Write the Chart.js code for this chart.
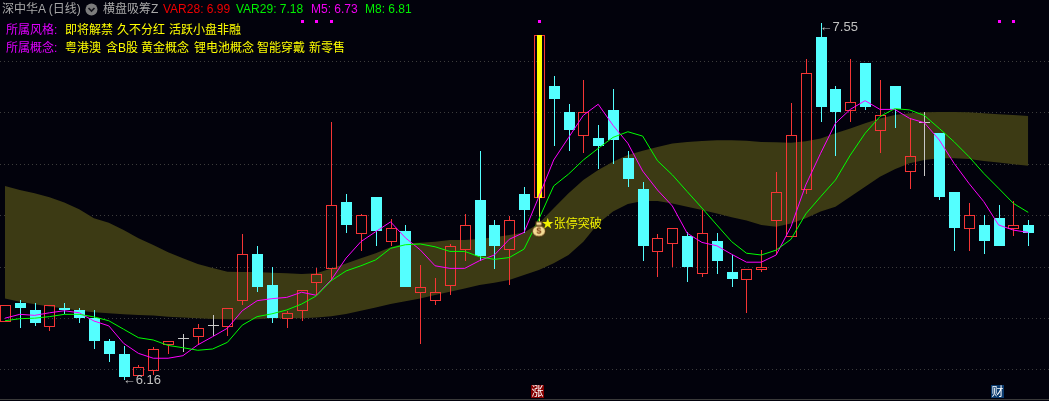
<!DOCTYPE html>
<html>
<head>
<meta charset="utf-8">
<title>深中华A 日线</title>
<script src="https://cdn.jsdelivr.net/npm/chart.js@4"></script>
<style>
html, body { margin: 0; padding: 0; background: #02020c; overflow: hidden; }
#wrap { position: relative; width: 1049px; height: 401px; }
canvas { position: absolute; left: 0; top: 0; }
#head span { position: absolute; white-space: nowrap; font: 12px/14px "Liberation Sans", "Noto Sans CJK SC", sans-serif; }
#head svg { position: absolute; left: 85px; top: 3px; }
#baseLine { position: absolute; left: 0; top: 399px; width: 1049px; height: 1px; background: #3a3a3a; }
</style>
</head>
<body>
<div id="wrap">
    <canvas id="kline" width="1049" height="401"></canvas>
    <div id="baseLine"></div>
    <div id="head"></div>
</div>
<script>
// 日线 K 线数据
const open = [6.387,6.460,6.433,6.368,6.441,6.433,6.402,6.312,6.262,6.177,6.197,6.297,6.319,6.329,6.371,6.368,6.469,6.651,6.530,6.399,6.430,6.539,6.591,6.853,6.729,6.873,6.698,6.740,6.500,6.469,6.527,6.668,6.861,6.764,6.668,6.885,6.869,7.305,7.203,7.112,7.104,7.212,7.025,6.904,6.660,6.691,6.721,6.572,6.702,6.581,6.551,6.590,6.781,6.718,6.901,7.496,7.293,7.209,7.395,7.131,7.305,6.971,7.162,7.122,6.892,6.749,6.764,6.791,6.749,6.764];
const close = [6.451,6.441,6.382,6.451,6.433,6.402,6.312,6.262,6.172,6.210,6.280,6.311,6.319,6.362,6.371,6.439,6.650,6.522,6.402,6.420,6.510,6.572,6.841,6.764,6.802,6.740,6.751,6.522,6.521,6.502,6.681,6.763,6.643,6.682,6.782,6.822,7.504,7.254,7.134,7.203,7.071,7.095,6.943,6.682,6.712,6.751,6.600,6.732,6.624,6.554,6.591,6.599,6.891,7.113,7.355,7.223,7.204,7.242,7.223,7.191,7.216,7.031,7.162,6.873,6.752,6.802,6.702,6.682,6.763,6.733];
const high = [6.451,6.472,6.460,6.451,6.460,6.441,6.433,6.320,6.293,6.219,6.289,6.311,6.339,6.378,6.413,6.439,6.729,6.682,6.600,6.429,6.510,6.596,7.165,6.885,6.807,6.873,6.787,6.764,6.608,6.557,6.690,6.807,7.052,6.783,6.799,6.912,7.504,7.344,7.235,7.328,7.153,7.293,7.052,6.931,6.729,6.751,6.737,6.822,6.733,6.647,6.591,6.666,6.970,7.239,7.409,7.550,7.305,7.409,7.395,7.328,7.305,7.179,7.204,7.122,6.892,6.850,6.803,6.842,6.857,6.783];
const low = [6.387,6.364,6.372,6.352,6.416,6.382,6.281,6.230,6.160,6.177,6.180,6.262,6.269,6.300,6.332,6.332,6.452,6.503,6.382,6.363,6.390,6.491,6.547,6.733,6.663,6.682,6.682,6.522,6.300,6.452,6.491,6.624,6.624,6.592,6.530,6.733,6.869,7.073,7.052,7.045,6.982,7.001,6.912,6.624,6.561,6.600,6.542,6.561,6.573,6.522,6.422,6.581,6.650,6.718,6.885,7.165,7.033,7.165,7.212,7.044,7.142,6.904,6.955,6.861,6.663,6.663,6.651,6.682,6.721,6.682];

// 均线
const m5 = [6.401,6.416,6.412,6.422,6.430,6.422,6.390,6.371,6.303,6.264,6.245,6.245,6.255,6.297,6.329,6.362,6.430,6.469,6.477,6.482,6.502,6.490,6.550,6.635,6.699,6.738,6.776,6.714,6.667,6.605,6.595,6.595,6.625,6.647,6.708,6.735,6.874,7.017,7.104,7.191,7.234,7.152,7.082,6.974,6.900,6.838,6.732,6.696,6.683,6.650,6.619,6.619,6.647,6.757,6.920,7.043,7.160,7.214,7.248,7.214,7.214,7.179,7.162,7.095,7.004,6.926,6.855,6.764,6.744,6.735];
const m8 = [6.391,6.399,6.401,6.407,6.416,6.416,6.406,6.391,6.358,6.325,6.316,6.295,6.286,6.276,6.281,6.307,6.374,6.407,6.418,6.433,6.456,6.488,6.547,6.585,6.605,6.628,6.673,6.687,6.690,6.679,6.661,6.661,6.640,6.630,6.637,6.670,6.787,6.916,6.962,7.017,7.062,7.105,7.127,7.110,7.014,6.959,6.894,6.830,6.764,6.699,6.654,6.647,6.666,6.708,6.807,6.874,6.939,7.036,7.121,7.186,7.217,7.212,7.190,7.140,7.088,7.030,6.965,6.907,6.848,6.813];

// 通道上下轨
const var29 = [6.916,6.900,6.887,6.872,6.851,6.825,6.790,6.773,6.744,6.712,6.686,6.658,6.634,6.612,6.596,6.582,6.581,6.581,6.578,6.576,6.573,6.576,6.594,6.614,6.634,6.654,6.677,6.693,6.695,6.699,6.705,6.705,6.709,6.716,6.725,6.735,6.770,6.829,6.887,6.939,6.978,7.010,7.036,7.053,7.068,7.081,7.087,7.091,7.094,7.094,7.092,7.087,7.086,7.084,7.090,7.101,7.121,7.140,7.160,7.179,7.192,7.199,7.203,7.204,7.204,7.203,7.199,7.195,7.192,7.188];
const var28 = [6.478,6.465,6.455,6.446,6.439,6.430,6.424,6.420,6.416,6.413,6.411,6.407,6.404,6.401,6.398,6.397,6.395,6.397,6.401,6.401,6.401,6.404,6.409,6.417,6.430,6.443,6.456,6.467,6.478,6.491,6.504,6.517,6.530,6.539,6.550,6.569,6.589,6.615,6.647,6.699,6.770,6.816,6.846,6.857,6.857,6.848,6.835,6.822,6.809,6.794,6.781,6.764,6.757,6.770,6.790,6.816,6.835,6.874,6.913,6.952,6.981,7.004,7.017,7.024,7.024,7.021,7.013,7.007,7.000,6.995];

const yTicks = [6.2, 6.4, 6.6, 6.8, 7.0, 7.2, 7.4];
const markerIdx = [20, 21, 22, 36, 67, 68];
const markerPrice = 7.56;
const limitIdx = 36;
const signalPrice = 6.748;
const signalText = '★张停突破';
const hiLabel = { i: 55, value: 7.55, text: '←7.55' };
const loLabel = { i: 8, value: 6.16, text: '←6.16' };
const bottomTags = [
    { i: 36, text: '涨', color: '#850000' },
    { i: 67, text: '财', color: '#0a3a6e' }
];

// 顶部文字
const headTexts = [
    [2, 2, '深中华A (日线)', '#a8a8a8'],
    [103, 2, '横盘吸筹Z', '#a8a8a8'],
    [163, 2, 'VAR28: 6.99', '#f00000'],
    [236, 2, 'VAR29: 7.18', '#00f000'],
    [311, 2, 'M5: 6.73', '#f000f0'],
    [365, 2, 'M8: 6.81', '#00f000'],
    [6, 23, '所属风格:', '#e000ff'],
    [65, 23, '即将解禁', '#ffff00'],
    [117, 23, '久不分红', '#ffff00'],
    [169, 23, '活跃小盘非融', '#ffff00'],
    [6, 41, '所属概念:', '#e000ff'],
    [65, 41, '粤港澳', '#ffff00'],
    [106, 41, '含B股', '#ffff00'],
    [141, 41, '黄金概念', '#ffff00'],
    [194, 41, '锂电池概念', '#ffff00'],
    [257, 41, '智能穿戴', '#ffff00'],
    [309, 41, '新零售', '#ffff00']
];

const RED = '#f53535';
const CYAN = '#54ffff';
const GRAY = '#c8c8c8';
const NONE = 'rgba(0,0,0,0)';

function buildHead() {
    const head = document.getElementById('head');
    headTexts.forEach(t => {
        const s = document.createElement('span');
        s.textContent = t[2];
        s.style.left = t[0] + 'px';
        s.style.top = t[1] + 'px';
        s.style.color = t[3];
        head.appendChild(s);
    });
    head.insertAdjacentHTML('beforeend', '<svg width="13" height="13"><circle cx="6.5" cy="6.5" r="6" fill="#7c7c7c"/><path d="M3.5 5 L6.5 8 L9.5 5" stroke="#15151c" stroke-width="1.6" fill="none"/></svg>');
}

// 钱袋图标
function makeBag() {
    const c = document.createElement('canvas');
    c.width = 16; c.height = 17;
    const g = c.getContext('2d');
    g.fillStyle = '#f5dc96';
    g.strokeStyle = '#4a2c08';
    g.beginPath();
    g.ellipse(8, 10.5, 6.5, 5.5, 0, 0, Math.PI * 2);
    g.fill(); g.stroke();
    g.fillRect(5, 1, 6, 4);
    g.strokeRect(5, 1, 6, 4);
    g.fillStyle = '#7a3c10';
    g.font = 'bold 9px "Liberation Sans"';
    g.textAlign = 'center';
    g.textBaseline = 'middle';
    g.fillText('$', 8, 11);
    return c;
}

const idx = open.map((_, i) => i);
const toPoints = arr => arr.map((v, i) => ({ x: i, y: v }));
const candleColor = i => close[i] > open[i] ? RED : close[i] < open[i] ? CYAN : GRAY;

const upper = idx.filter(i => high[i] > Math.max(open[i], close[i]));
const lower = idx.filter(i => low[i] < Math.min(open[i], close[i]));

// 柱子和标记对齐到整数像素
const snapPlugin = {
    id: 'snap',
    afterDatasetsUpdate(chart) {
        chart.data.datasets.forEach((ds, k) => {
            const meta = chart.getDatasetMeta(k);
            if (meta.type === 'bar') {
                meta.data.forEach(el => {
                    el.x = Math.round(el.x) + 0.5;
                    el.y = Math.round(el.y);
                    el.base = Math.round(el.base);
                });
            } else if (ds.snap) {
                meta.data.forEach(el => {
                    el.x = Math.round(el.x) + 0.5;
                    el.y = Math.round(el.y) + 0.5;
                });
            }
        });
    }
};

// 最高最低、涨停信号、底部标记文字
const labelPlugin = {
    id: 'labels',
    afterDraw(chart) {
        const ctx = chart.ctx;
        const x = chart.scales.x, y = chart.scales.y;
        ctx.save();
        ctx.textBaseline = 'middle';
        ctx.textAlign = 'left';
        ctx.font = '13px "Liberation Sans"';
        ctx.fillStyle = '#c0c0c0';
        ctx.fillText(hiLabel.text, x.getPixelForValue(hiLabel.i) - 1, y.getPixelForValue(hiLabel.value) + 4);
        ctx.fillText(loLabel.text, x.getPixelForValue(loLabel.i) - 1, y.getPixelForValue(loLabel.value));
        ctx.font = '12px "Noto Sans CJK SC"';
        ctx.fillStyle = '#f0f000';
        ctx.fillText(signalText, x.getPixelForValue(limitIdx) + 3, y.getPixelForValue(signalPrice) - 6);
        bottomTags.forEach(t => {
            const px = Math.round(x.getPixelForValue(t.i));
            ctx.fillStyle = t.color;
            ctx.fillRect(px - 8, 385, 13, 13);
            ctx.fillStyle = '#ffffff';
            ctx.textAlign = 'center';
            ctx.fillText(t.text, px - 1.5, 391.5);
        });
        ctx.restore();
    }
};

function drawChart() {
    const ctx = document.getElementById('kline').getContext('2d');
    const barBase = { type: 'bar', grouped: false, borderSkipped: false, inflateAmount: 0 };

    new Chart(ctx, {
        type: 'bar',
        data: {
            datasets: [
                { type: 'line', label: 'VAR29', data: toPoints(var29), order: 50, borderWidth: 0, pointRadius: 0, fill: '+1', backgroundColor: '#3c3a14' },
                { type: 'line', label: 'VAR28', data: toPoints(var28), order: 51, borderWidth: 0, pointRadius: 0 },
                { ...barBase, label: 'wickUp', data: upper.map(i => ({ x: i, y: [Math.max(open[i], close[i]), high[i]] })), barThickness: 1, backgroundColor: upper.map(candleColor), order: 20 },
                { ...barBase, label: 'wickDown', data: lower.map(i => ({ x: i, y: [low[i], Math.min(open[i], close[i])] })), barThickness: 1, backgroundColor: lower.map(candleColor), order: 20 },
                {
                    ...barBase,
                    label: 'body',
                    data: idx.map(i => ({ x: i, y: close[i] === open[i] ? [close[i], close[i] + 0.0039] : [open[i], close[i]] })),
                    barThickness: 11,
                    backgroundColor: idx.map(i => close[i] > open[i] ? NONE : candleColor(i)),
                    borderColor: idx.map(candleColor),
                    borderWidth: idx.map(i => close[i] > open[i] ? 1 : 0),
                    order: 15
                },
                { ...barBase, label: 'limit', data: [{ x: limitIdx, y: [open[limitIdx], close[limitIdx]] }], barThickness: 5, backgroundColor: '#ffff00', order: 14 },
                { ...barBase, label: 'limitLine', data: [{ x: limitIdx, y: [signalPrice, open[limitIdx]] }], barThickness: 1, backgroundColor: '#e8e850', order: 14 },
                { type: 'line', label: 'M5', data: toPoints(m5), order: 6, borderColor: '#ff00ff', borderWidth: 1, pointRadius: 0, tension: 0 },
                { type: 'line', label: 'M8', data: toPoints(m8), order: 5, borderColor: '#00ff00', borderWidth: 1, pointRadius: 0, tension: 0 },
                { type: 'scatter', label: 'marker', data: markerIdx.map(i => ({ x: i, y: markerPrice })), snap: true, order: 3, pointStyle: 'rect', pointRadius: 2.13, borderWidth: 0, backgroundColor: '#ff00ff', showLine: false },
                { type: 'scatter', label: 'signal', data: [{ x: limitIdx, y: signalPrice }], order: 2, pointStyle: makeBag(), showLine: false }
            ]
        },
        options: {
            responsive: false,
            animation: false,
            events: [],
            layout: { padding: 0, autoPadding: false },
            plugins: { legend: { display: false }, tooltip: { enabled: false } },
            scales: {
                x: { type: 'linear', offset: false, min: -0.337, max: 70.4, display: false },
                y: {
                    type: 'linear',
                    min: 6.0785,
                    max: 7.64,
                    grid: { color: '#3c3c3c', drawTicks: false },
                    border: { display: false, dash: [1, 3] },
                    ticks: { display: false, padding: 0 },
                    afterFit: scale => { scale.width = 0; },
                    afterBuildTicks: scale => { scale.ticks = yTicks.map(v => ({ value: v })); }
                }
            }
        },
        plugins: [snapPlugin, labelPlugin]
    });
}

buildHead();
drawChart();
</script>
</body>
</html>
